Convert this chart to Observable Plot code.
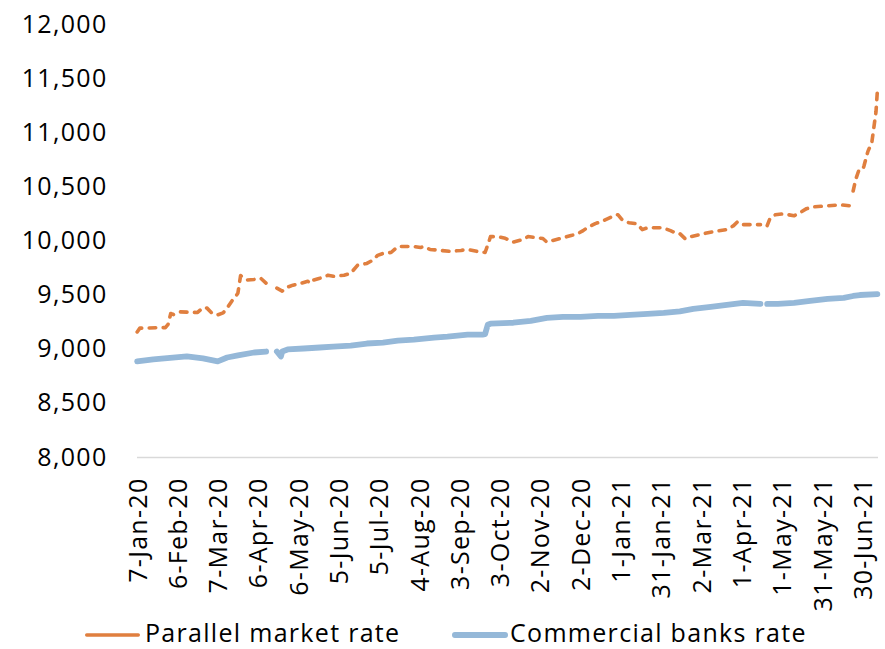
<!DOCTYPE html>
<html><head><meta charset="utf-8">
<script src="https://cdn.jsdelivr.net/npm/d3@7"></script>
<script src="https://cdn.jsdelivr.net/npm/@observablehq/plot@0.6"></script>
<style>
html,body{margin:0;padding:0;background:#fff;}
#wrap{position:relative;width:885px;height:649px;font-family:"Open Sans",sans-serif;overflow:hidden;}
.lg-text{position:absolute;font-size:25px;letter-spacing:1.3px;line-height:27px;color:#000;white-space:nowrap;}
.lg-sw{position:absolute;}
</style></head><body>
<div id="wrap"><div id="chart"></div></div>
<script>
// ---- data ----
const seriesNames = ["Parallel market rate", "Commercial banks rate"];
const seriesColors = ["#e07f3f", "#95b8d8"];

const parallelDates = ["2020-01-06","2020-01-08","2020-01-27","2020-01-29","2020-01-31","2020-02-02","2020-02-07","2020-02-20","2020-02-24","2020-02-27","2020-03-02","2020-03-06","2020-03-10","2020-03-13","2020-03-17","2020-03-19","2020-03-21","2020-03-23","2020-03-25","2020-03-28","2020-04-02","2020-04-07","2020-04-11","2020-04-15","2020-04-19","2020-04-23","2020-04-27","2020-05-01","2020-05-07","2020-05-12","2020-05-14","2020-05-16","2020-05-21","2020-05-27","2020-05-31","2020-06-08","2020-06-13","2020-06-18","2020-06-25","2020-06-29","2020-07-03","2020-07-07","2020-07-13","2020-07-18","2020-07-22","2020-07-30","2020-08-04","2020-08-06","2020-08-11","2020-08-19","2020-08-26","2020-09-03","2020-09-08","2020-09-15","2020-09-21","2020-09-24","2020-09-25","2020-09-30","2020-10-06","2020-10-12","2020-10-19","2020-10-23","2020-10-29","2020-11-03","2020-11-06","2020-11-10","2020-11-16","2020-11-24","2020-11-29","2020-12-03","2020-12-06","2020-12-12","2020-12-18","2020-12-23","2020-12-27","2020-12-29","2021-01-01","2021-01-06","2021-01-12","2021-01-16","2021-01-20","2021-01-24","2021-01-31","2021-02-06","2021-02-11","2021-02-13","2021-02-17","2021-02-21","2021-03-03","2021-03-10","2021-03-20","2021-03-25","2021-03-28","2021-03-30","2021-04-01","2021-04-14","2021-04-16","2021-04-19","2021-04-21","2021-04-25","2021-05-01","2021-05-09","2021-05-12","2021-05-18","2021-05-23","2021-06-03","2021-06-13","2021-06-20","2021-06-21","2021-06-22","2021-06-24","2021-06-26","2021-06-29","2021-06-30","2021-07-03","2021-07-04","2021-07-05","2021-07-06","2021-07-07","2021-07-09","2021-07-10"];
const parallelValues = [9160,9195,9200,9230,9330,9320,9345,9340,9385,9380,9330,9318,9336,9380,9455,9480,9520,9680,9665,9640,9645,9656,9610,null,9565,9537,9574,9592,9610,9628,9610,9638,9656,9683,9674,9684,9702,9775,9793,9820,9867,9885,9894,9949,9949,9949,9940,9949,9922,9913,9904,9913,9922,9904,9894,10000,10040,10041,10025,9990,10013,10041,10031,10023,9990,10004,10023,10050,10068,10096,10123,10160,10187,10215,10242,10242,10197,10169,10160,10105,10123,10123,10123,10096,10068,10068,10020,10040,10068,10087,10105,10142,10178,10169,10151,10151,null,10142,10206,10242,10251,10233,10251,10297,10315,10325,10334,10325,null,10462,10572,10645,10654,10691,10828,10856,null,10920,11010,11193,11380];

const bankDates = ["2020-01-06","2020-01-18","2020-02-12","2020-02-24","2020-03-06","2020-03-13","2020-03-21","2020-04-02","2020-04-11","2020-04-15","2020-04-19","2020-04-22","2020-04-23","2020-04-27","2020-05-09","2020-05-21","2020-05-31","2020-06-13","2020-06-25","2020-07-07","2020-07-18","2020-07-30","2020-08-14","2020-08-24","2020-09-08","2020-09-19","2020-09-21","2020-09-23","2020-09-25","2020-10-12","2020-10-25","2020-11-06","2020-11-18","2020-12-01","2020-12-14","2020-12-26","2021-01-07","2021-01-20","2021-02-01","2021-02-13","2021-02-23","2021-03-08","2021-03-20","2021-04-01","2021-04-14","2021-04-16","2021-04-19","2021-04-27","2021-05-09","2021-05-21","2021-06-03","2021-06-15","2021-06-22","2021-06-27","2021-07-10"];
const bankValues = [8888,8906,8934,8915,8888,8924,8943,8970,8979,null,8979,8934,8980,8998,9007,9016,9025,9034,9053,9062,9080,9089,9108,9117,9135,9135,9140,9226,9236,9245,9263,9290,9300,9300,9309,9309,9318,9327,9336,9350,9373,9391,9410,9428,9419,null,9419,9419,9428,9446,9465,9474,9492,9501,9510];

const yTicks = [8000,8500,9000,9500,10000,10500,11000,11500,12000];
const xTickDates = ["2020-01-07","2020-02-06","2020-03-07","2020-04-06","2020-05-06","2020-06-05","2020-07-05","2020-08-04","2020-09-03","2020-10-03","2020-11-02","2020-12-02","2021-01-01","2021-01-31","2021-03-02","2021-04-01","2021-05-01","2021-05-31","2021-06-30"];

// ---- build ----
const parse = d3.utcParse("%Y-%m-%d");
const parallel = parallelDates.map((d, i) => ({date: parse(d), value: parallelValues[i]}));
const bank = bankDates.map((d, i) => ({date: parse(d), value: bankValues[i]}));

const chart = Plot.plot({
  width: 885,
  height: 622,
  marginLeft: 137,
  marginRight: 7,
  marginTop: 24,
  marginBottom: 165,
  style: {fontFamily: "'Open Sans', sans-serif", fontSize: "25px", letterSpacing: "1.3px", color: "#000", background: "#fff", overflow: "visible"},
  x: {type: "utc", domain: [new Date(Date.UTC(2020, 0, 6, 6)), new Date(Date.UTC(2021, 6, 10, 21))]},
  y: {domain: [8000, 12000]},
  marks: [
    Plot.ruleY([8000], {stroke: "#d9d9d9", strokeWidth: 1.5}),
    Plot.axisY({ticks: yTicks, tickSize: 0, tickPadding: 30, tickFormat: d3.format(","), fontSize: 25, label: null}),
    Plot.axisX({ticks: xTickDates.map(parse), tickSize: 0, tickPadding: 20, tickRotate: -90, tickFormat: d3.utcFormat("%-d-%b-%y"), fontSize: 25, label: null}),
    Plot.line(bank, {x: "date", y: "value", stroke: seriesColors[1], strokeWidth: 5.8, strokeLinecap: "round", strokeLinejoin: "round"}),
    Plot.line(parallel, {x: "date", y: "value", stroke: seriesColors[0], strokeWidth: 3.6, strokeDasharray: "6.5,7.5", strokeLinecap: "round", strokeLinejoin: "round"})
  ]
});
document.getElementById("chart").appendChild(chart);

// ---- legend below the chart ----
const wrap = document.getElementById("wrap");
const legendItems = [
  {sx: 85, sw: 55, tx: 145, width: 3.4},
  {sx: 452, sw: 56, tx: 510, width: 5.8}
];
legendItems.forEach((it, i) => {
  const sw = document.createElementNS("http://www.w3.org/2000/svg", "svg");
  sw.setAttribute("class", "lg-sw");
  sw.setAttribute("width", it.sw);
  sw.setAttribute("height", 10);
  sw.style.left = it.sx + "px";
  sw.style.top = "630px";
  const ln = document.createElementNS("http://www.w3.org/2000/svg", "line");
  ln.setAttribute("x1", it.width / 2); ln.setAttribute("x2", it.sw - it.width / 2);
  ln.setAttribute("y1", 5); ln.setAttribute("y2", 5);
  ln.setAttribute("stroke", seriesColors[i]);
  ln.setAttribute("stroke-width", it.width);
  ln.setAttribute("stroke-linecap", "round");
  sw.appendChild(ln);
  wrap.appendChild(sw);
  const t = document.createElement("div");
  t.className = "lg-text";
  t.textContent = seriesNames[i];
  t.style.left = it.tx + "px";
  t.style.top = "619px";
  wrap.appendChild(t);
});
</script>
</body></html>
